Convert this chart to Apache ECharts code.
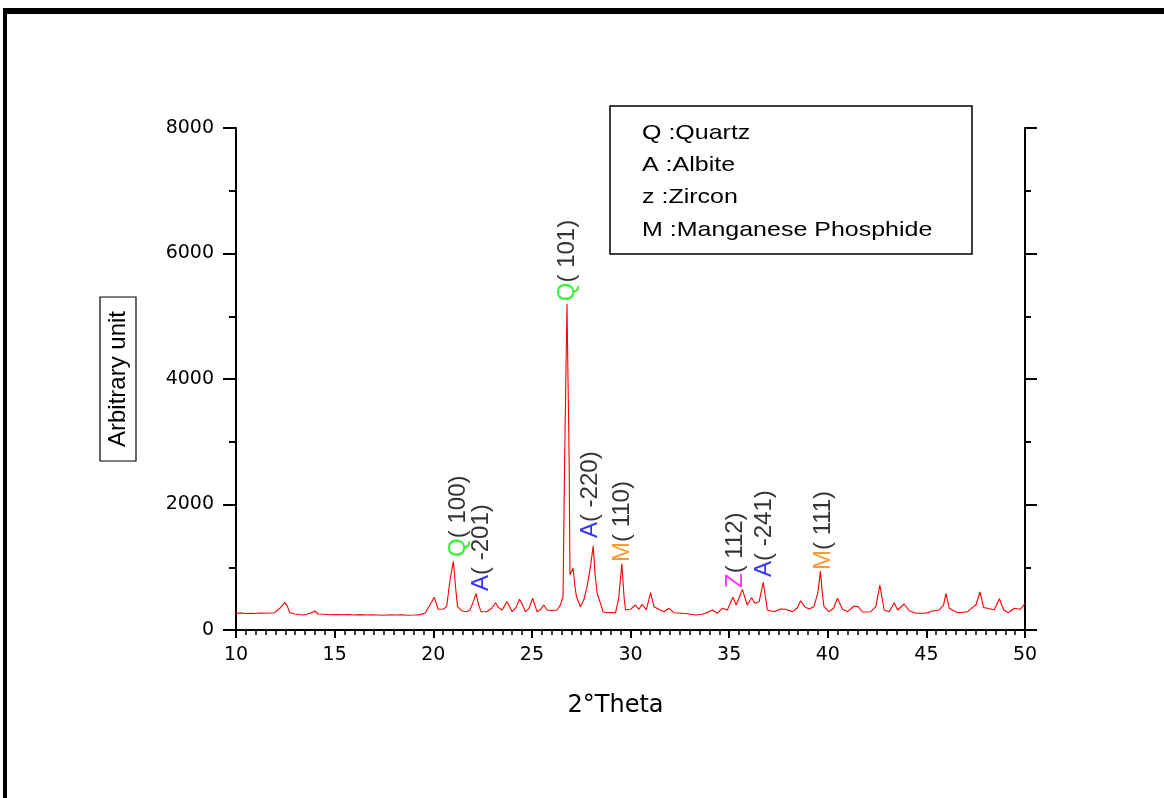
<!DOCTYPE html>
<html>
<head>
<meta charset="utf-8">
<title>XRD pattern</title>
<script src="https://cdn.jsdelivr.net/npm/echarts@6/dist/echarts.min.js"></script>
<style>
  html, body { margin: 0; padding: 0; background: #fff; }
  #chart { width: 1164px; height: 798px; }
</style>
</head>
<body>
<div id="chart"></div>
<script>
// Diffraction angle (2θ, degrees) and measured intensity (arbitrary units)
const twoTheta = [
  10.00, 10.25, 10.50, 10.75, 11.00, 11.25, 11.50, 11.75, 11.96, 12.22,
  12.47, 12.61, 12.73, 12.98, 13.20, 13.40, 13.60, 13.74, 13.88, 14.00,
  14.16, 14.50, 14.80, 15.10, 15.40, 15.70, 16.00, 16.30, 16.60, 16.90,
  17.20, 17.50, 17.80, 18.10, 18.40, 18.70, 19.07, 19.35, 19.58, 19.83,
  20.05, 20.25, 20.51, 20.68, 20.85, 21.02, 21.13, 21.23, 21.44, 21.69,
  21.86, 22.03, 22.17, 22.28, 22.42, 22.71, 22.96, 23.16, 23.30, 23.49,
  23.74, 24.00, 24.20, 24.37, 24.50, 24.67, 24.85, 25.04, 25.15, 25.26,
  25.45, 25.60, 25.77, 26.00, 26.28, 26.45, 26.58, 26.66, 26.78, 26.89,
  26.93, 27.00, 27.09, 27.18, 27.26, 27.46, 27.63, 27.80, 27.97, 28.11,
  28.20, 28.31, 28.48, 28.60, 28.80, 29.00, 29.24, 29.40, 29.56, 29.68,
  29.75, 30.00, 30.25, 30.42, 30.59, 30.80, 31.02, 31.19, 31.44, 31.69,
  31.95, 32.20, 32.62, 32.90, 33.30, 33.60, 33.81, 34.15, 34.40, 34.65,
  34.91, 35.19, 35.36, 35.67, 35.92, 36.14, 36.31, 36.52, 36.73, 36.94,
  37.27, 37.61, 37.87, 38.21, 38.45, 38.63, 38.83, 39.05, 39.30, 39.50,
  39.63, 39.72, 39.81, 40.07, 40.30, 40.49, 40.75, 41.00, 41.34, 41.54,
  41.76, 42.18, 42.44, 42.64, 42.86, 43.11, 43.37, 43.54, 43.87, 44.13,
  44.47, 44.97, 45.31, 45.65, 45.87, 45.99, 46.16, 46.58, 47.09, 47.34,
  47.51, 47.72, 47.90, 48.11, 48.44, 48.70, 48.92, 49.15, 49.46, 49.76,
  50.00
];
const intensity = [
  265, 270, 262, 268, 263, 270, 266, 272, 276, 346,
  441, 372, 276, 255, 248, 239, 250, 266, 280, 303,
  255, 250, 244, 248, 242, 246, 240, 245, 238, 243,
  240, 236, 242, 238, 244, 236, 239, 245, 266, 398,
  521, 330, 335, 372, 797, 1095, 690, 372, 308, 292,
  319, 452, 580, 425, 292, 292, 346, 435, 360, 319,
  452, 292, 360, 489, 420, 292, 340, 505, 400, 292,
  330, 398, 319, 310, 319, 400, 531, 2700, 5200, 2700,
  880, 930, 983, 700, 531, 371, 478, 690, 1009, 1340,
  900, 585, 425, 292, 276, 280, 276, 500, 1055, 500,
  319, 330, 398, 330, 409, 319, 595, 372, 330, 292,
  346, 276, 266, 258, 239, 250, 266, 319, 266, 346,
  319, 521, 398, 648, 398, 515, 425, 452, 760, 319,
  292, 335, 330, 292, 350, 467, 372, 335, 372, 600,
  935, 600, 372, 292, 350, 505, 330, 292, 382, 372,
  287, 292, 372, 717, 319, 292, 435, 319, 414, 308,
  266, 266, 303, 319, 398, 585, 346, 276, 292, 361,
  398, 606, 356, 346, 319, 499, 319, 276, 346, 330,
  420
];

// Peak assignments: phase letter, Miller indices, and where each tag sits (2θ, intensity)
const peakPhase   = ['Q', 'A', 'Q', 'A', 'M', 'Z', 'A', 'M'];
const peakHkl     = ['( 100)', '( -201)', '( 101)', '( -220)', '( 110)', '( 112)', '( -241)', '( 111)'];
const peakTagX    = [21.28, 22.44, 26.80, 27.95, 29.59, 35.33, 36.80, 39.80];
const peakTagY    = [1165, 622, 5240, 1465, 1084, 670, 845, 956];

// Phase key shown in the box
const phaseKey = ['Q :Quartz', 'A :Albite', 'z :Zircon', 'M :Manganese Phosphide'];

// Tick labels on the axes
const xTicks = [10, 15, 20, 25, 30, 35, 40, 45, 50];
const yTicks = [0, 2000, 4000, 6000, 8000];

const phaseColors = { Q: '#00ee00', A: '#0000ff', M: '#ff8000', Z: '#ff00ff' };

const spectrum = twoTheta.map((t, i) => [t, intensity[i]]);
const tags = peakTagX.map((t, i) => [t, peakTagY[i]]);

const SANS = "'Liberation Sans', Arial, sans-serif";
const WIDE = "'DejaVu Sans', sans-serif";

const tagRich = { t: { color: '#000', fontSize: 24, fontFamily: SANS } };
Object.keys(phaseColors).forEach(k => {
  tagRich[k] = { color: phaseColors[k], fontSize: 24, fontFamily: SANS };
});

const chart = echarts.init(document.getElementById('chart'), null, { renderer: 'canvas' });

const axisBase = {
  type: 'value',
  splitLine: { show: false },
  axisLine: { show: true, onZero: false, lineStyle: { color: '#000', width: 2 } }
};

chart.setOption({
  backgroundColor: '#fff',
  animation: false,
  grid: { left: 236, right: 139, top: 128, bottom: 168, containLabel: false },
  xAxis: Object.assign({}, axisBase, {
    min: xTicks[0],
    max: xTicks[xTicks.length - 1],
    interval: xTicks[1] - xTicks[0],
    name: '2°Theta',
    nameLocation: 'middle',
    nameGap: 64,
    nameTextStyle: {
      fontFamily: WIDE, fontSize: 24, color: '#000', verticalAlign: 'top',
      padding: [0, 30, 0, 0]
    },
    axisTick: { show: true, length: 8, lineStyle: { color: '#000', width: 2 } },
    minorTick: { show: true, splitNumber: 10, length: 5, lineStyle: { color: '#000', width: 1.5 } },
    axisLabel: { fontFamily: WIDE, fontSize: 19, color: '#000', margin: 16, formatter: v => String(v) }
  }),
  yAxis: [
    Object.assign({}, axisBase, {
      position: 'left',
      min: yTicks[0],
      max: yTicks[yTicks.length - 1],
      interval: yTicks[1] - yTicks[0],
      name: 'Arbitrary unit',
      nameLocation: 'middle',
      nameRotate: 90,
      nameGap: 100,
      nameTextStyle: {
        fontFamily: SANS, fontSize: 24, color: '#000',
        borderColor: '#000', borderWidth: 1.2, padding: [6, 14, 6, 14]
      },
      axisTick: { show: true, length: 13, lineStyle: { color: '#000', width: 2 } },
      minorTick: { show: true, splitNumber: 2, length: 7, lineStyle: { color: '#000', width: 2 } },
      axisLabel: { fontFamily: WIDE, fontSize: 19, color: '#000', margin: 22, formatter: v => String(v) }
    }),
    Object.assign({}, axisBase, {
      position: 'right',
      min: yTicks[0],
      max: yTicks[yTicks.length - 1],
      interval: yTicks[1] - yTicks[0],
      axisTick: { show: true, length: 12, lineStyle: { color: '#000', width: 2 } },
      minorTick: { show: true, splitNumber: 2, length: 6, lineStyle: { color: '#000', width: 2 } },
      axisLabel: { show: false }
    })
  ],
  series: [
    {
      type: 'line',
      data: spectrum,
      yAxisIndex: 0,
      showSymbol: false,
      symbol: 'none',
      lineStyle: { color: '#ff0000', width: 1.1 },
      z: 3,
      silent: true
    },
    {
      type: 'scatter',
      data: tags,
      yAxisIndex: 0,
      symbolSize: 0,
      silent: true,
      z: 4,
      label: {
        show: true,
        position: 'top',
        distance: 0,
        rotate: 90,
        align: 'left',
        verticalAlign: 'middle',
        formatter: p => '{' + peakPhase[p.dataIndex] + '|' + peakPhase[p.dataIndex] + '}{t|' + peakHkl[p.dataIndex] + '}',
        rich: tagRich
      }
    }
  ],
  graphic: [
    // page frame
    { type: 'rect', shape: { x: 3, y: 8, width: 1161, height: 6 }, style: { fill: '#000' }, silent: true },
    { type: 'rect', shape: { x: 3, y: 8, width: 4, height: 790 }, style: { fill: '#000' }, silent: true },
    // phase key box
    {
      type: 'group',
      silent: true,
      children: [
        { type: 'rect', shape: { x: 610, y: 106, width: 362, height: 148 },
          style: { fill: '#fff', stroke: '#000', lineWidth: 1.5 } }
      ].concat(phaseKey.map((txt, i) => ({
        type: 'text',
        x: 642,
        y: 133 + i * 32.3,
        scaleX: 1.19,
        style: { text: txt, fill: '#000', font: '21px ' + SANS, verticalAlign: 'middle', align: 'left' }
      })))
    }
  ]
});
</script>
</body>
</html>
